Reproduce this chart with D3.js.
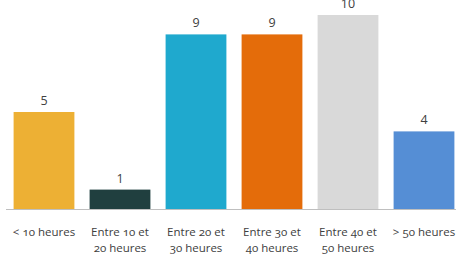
<!DOCTYPE html>
<html><head><meta charset="utf-8">
<script src="https://cdn.jsdelivr.net/npm/d3@7"></script>
<style>
html,body{margin:0;padding:0;background:#fff;overflow:hidden}
text{font-family:"Open Sans","Noto Sans",sans-serif}
</style></head>
<body><svg id="c" width="456" height="254"></svg>
<script>
const categories = ["< 10 heures", "Entre 10 et 20 heures", "Entre 20 et 30 heures", "Entre 30 et 40 heures", "Entre 40 et 50 heures", "> 50 heures"];
const labelLines = [["< 10 heures"], ["Entre 10 et", "20 heures"], ["Entre 20 et", "30 heures"], ["Entre 30 et", "40 heures"], ["Entre 40 et", "50 heures"], ["> 50 heures"]];
const values = [5, 1, 9, 9, 10, 4];
const colors = ["#EDB034", "#203F3F", "#1FA9CE", "#E46C0A", "#D9D9D9", "#558ED5"];

const svg = d3.select("#c");
const x = d3.scaleBand().domain(categories).range([6, 462]).paddingInner(0.2).paddingOuter(0.1);
const y = d3.scaleLinear().domain([0, 10]).range([209, 15]);

svg.selectAll("rect.bar").data(values).join("rect")
  .attr("class","bar")
  .attr("x",(d,i)=>x(categories[i]))
  .attr("width",x.bandwidth())
  .attr("y",d=>y(d))
  .attr("height",d=>y(0)-y(d))
  .attr("fill",(d,i)=>colors[i]);

svg.append("line").attr("x1",6).attr("x2",456).attr("y1",y(0)+0.5).attr("y2",y(0)+0.5)
  .attr("stroke","#BFBFBF").attr("stroke-width",1);

svg.selectAll("text.val").data(values).join("text")
  .attr("class","val")
  .attr("x",(d,i)=>x(categories[i])+x.bandwidth()/2)
  .attr("y",d=>y(d)-7)
  .attr("text-anchor","middle")
  .attr("font-size",12.5)
  .attr("fill","#404040")
  .text(d=>d);

const g = svg.selectAll("text.cat").data(labelLines).join("text")
  .attr("class","cat")
  .attr("text-anchor","middle")
  .attr("font-size",11.5)
  .attr("fill","#404040")
  .attr("font-variant-numeric","oldstyle-nums")
  .style("font-variant-numeric","oldstyle-nums");
g.each(function(lines,i){
  const t=d3.select(this);
  lines.forEach((l,j)=>{
    t.append("tspan").attr("x",x(categories[i])+x.bandwidth()/2).attr("y",236+j*16).text(l);
  });
});
</script></body></html>
